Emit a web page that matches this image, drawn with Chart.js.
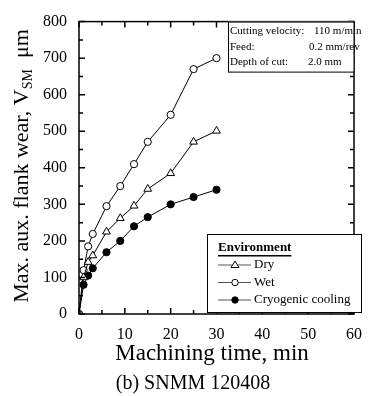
<!DOCTYPE html>
<html>
<head>
<meta charset="utf-8">
<script src="https://cdn.jsdelivr.net/npm/chart.js@4.4.1/dist/chart.umd.min.js"></script>
<style>
  body { margin: 0; background: #fff; }
  #wrap { width: 373px; height: 396px; }
</style>
</head>
<body>
<div id="wrap"><canvas id="wearChart" width="373" height="396"></canvas></div>
<script>
// machining time (min) and max auxiliary flank wear (um)
const times = [0, 1, 2, 3, 6, 9, 12, 15, 20, 25, 30];
const dryWear = [0, 100, 142, 160, 225, 262, 296, 342, 385, 471, 501];
const wetWear = [0, 120, 185, 219, 295, 350, 410, 471, 545, 670, 700];
const cryoWear = [0, 80, 105, 125, 169, 200, 240, 265, 300, 320, 340];

const seriesNames = ['Dry', 'Wet', 'Cryogenic cooling'];
const infoLabels = ['Cutting velocity:', 'Feed:', 'Depth of cut:'];
const infoValues = ['110 m/min', '0.2 mm/rev', '2.0 mm'];

const SERIF = '"Liberation Serif", "Times New Roman", serif';

function toPoints(ys) {
  return times.map((t, i) => ({ x: t, y: ys[i] }));
}

// inward ticks on all four sides + frame + annotations
const decorPlugin = {
  id: 'decor',
  afterDraw(chart) {
    const ctx = chart.ctx;
    const a = chart.chartArea;
    const xs = chart.scales.x, ys = chart.scales.y;
    ctx.save();
    ctx.strokeStyle = '#000';
    ctx.lineWidth = 1.5;
    ctx.strokeRect(a.left, a.top, a.right - a.left, a.bottom - a.top);

    for (let v = 0; v <= 60; v += 5) {
      const px = xs.getPixelForValue(v);
      const len = v % 10 === 0 ? 6 : 4;
      ctx.beginPath();
      ctx.moveTo(px, a.bottom); ctx.lineTo(px, a.bottom - len);
      ctx.moveTo(px, a.top); ctx.lineTo(px, a.top + len);
      ctx.stroke();
    }
    for (let v = 0; v <= 800; v += 50) {
      const py = ys.getPixelForValue(v);
      const len = v % 100 === 0 ? 6 : 4;
      ctx.beginPath();
      ctx.moveTo(a.left, py); ctx.lineTo(a.left + len, py);
      ctx.moveTo(a.right, py); ctx.lineTo(a.right - len, py);
      ctx.stroke();
    }

    // y axis title with subscript
    ctx.fillStyle = '#000';
    ctx.translate(28, 166);
    ctx.rotate(-Math.PI / 2);
    const main = 'Max. aux. flank wear, V';
    const sub = 'SM';
    const unit = '  \u03bcm';
    ctx.font = '22px ' + SERIF;
    const wMain = ctx.measureText(main).width;
    const wUnit = ctx.measureText(unit).width;
    ctx.font = '14px ' + SERIF;
    const wSub = ctx.measureText(sub).width;
    let x0 = -(wMain + wSub + wUnit) / 2;
    ctx.textBaseline = 'alphabetic';
    ctx.font = '22px ' + SERIF;
    ctx.fillText(main, x0, 0);
    ctx.font = '14px ' + SERIF;
    ctx.fillText(sub, x0 + wMain, 4);
    ctx.font = '22px ' + SERIF;
    ctx.fillText(unit, x0 + wMain + wSub, 0);
    ctx.setTransform(1, 0, 0, 1, 0, 0);

    // x axis title and caption
    ctx.textAlign = 'center';
    ctx.font = '23px ' + SERIF;
    ctx.fillText('Machining time, min', 212, 360);
    ctx.font = '20px ' + SERIF;
    ctx.fillText('(b) SNMM 120408', 193, 389);

    // cutting conditions box
    ctx.lineWidth = 1;
    ctx.fillStyle = '#fff';
    ctx.fillRect(228, a.top, a.right - 228, 50);
    ctx.strokeRect(228.5, a.top + 0.5, a.right - 228.5, 50);
    ctx.fillStyle = '#000';
    ctx.textAlign = 'left';
    ctx.textBaseline = 'middle';
    ctx.font = '11px ' + SERIF;
    const valX = [314, 309, 308];
    infoLabels.forEach((lab, i) => {
      const yy = a.top + 10 + i * 15.5;
      ctx.fillText(lab, 230, yy);
      ctx.fillText(infoValues[i], valX[i], yy);
    });

    // legend box
    const lx = 207, ly = 234, lw = 154, lh = 78;
    ctx.fillStyle = '#fff';
    ctx.fillRect(lx, ly, lw, lh);
    ctx.strokeRect(lx + 0.5, ly + 0.5, lw, lh);
    ctx.fillStyle = '#000';
    ctx.font = 'bold 13px ' + SERIF;
    ctx.fillText('Environment', 218, 248);
    const tw = ctx.measureText('Environment').width;
    ctx.fillRect(218, 255, tw, 1.5);
    ctx.font = '13px ' + SERIF;
    chart.data.datasets.forEach((ds, i) => {
      const yy = 265 + i * 17.5;
      ctx.strokeStyle = '#555';
      ctx.lineWidth = 1;
      ctx.beginPath();
      ctx.moveTo(218, yy); ctx.lineTo(251, yy);
      ctx.stroke();
      ctx.strokeStyle = '#000';
      ctx.fillStyle = ds.pointBackgroundColor;
      ctx.beginPath();
      if (ds.pointStyle === 'triangle') {
        ctx.moveTo(235, yy - 4); ctx.lineTo(239, yy + 2.5); ctx.lineTo(231, yy + 2.5); ctx.closePath();
      } else {
        ctx.arc(235, yy, 3.2, 0, Math.PI * 2);
      }
      ctx.fill(); ctx.stroke();
      ctx.fillStyle = '#000';
      ctx.fillText(ds.label, 254, yy);
    });
    ctx.restore();
  }
};

function initWearChart() {
  const ctx = document.getElementById('wearChart').getContext('2d');
  const base = {
    borderColor: '#000',
    borderWidth: 1,
    pointBorderColor: '#000',
    pointBorderWidth: 1,
    pointRadius: 3.6,
    showLine: true,
    tension: 0
  };
  new Chart(ctx, {
    type: 'scatter',
    data: {
      datasets: [
        { ...base, label: seriesNames[0], data: toPoints(dryWear), pointStyle: 'triangle', pointRadius: 4.5, pointBackgroundColor: '#fff' },
        { ...base, label: seriesNames[1], data: toPoints(wetWear), pointStyle: 'circle', pointBackgroundColor: '#fff' },
        { ...base, label: seriesNames[2], data: toPoints(cryoWear), pointStyle: 'circle', pointBackgroundColor: '#000' }
      ]
    },
    options: {
      responsive: false,
      animation: false,
      layout: { padding: { top: 15, right: 9, left: 0, bottom: 0 } },
      plugins: { legend: { display: false }, tooltip: { enabled: false } },
      scales: {
        x: {
          type: 'linear', min: 0, max: 60,
          grid: { display: false, drawTicks: false },
          border: { display: false },
          ticks: { stepSize: 10, color: '#000', padding: 11, font: { family: SERIF, size: 16 } },
          afterFit: s => { s.height = 82; }
        },
        y: {
          min: 0, max: 800,
          grid: { display: false, drawTicks: false },
          border: { display: false },
          ticks: { stepSize: 100, color: '#000', padding: 12, font: { family: SERIF, size: 16 } },
          afterFit: s => { s.width = 79; }
        }
      }
    },
    plugins: [decorPlugin]
  });
}

document.addEventListener('DOMContentLoaded', initWearChart);
</script>
</body>
</html>
